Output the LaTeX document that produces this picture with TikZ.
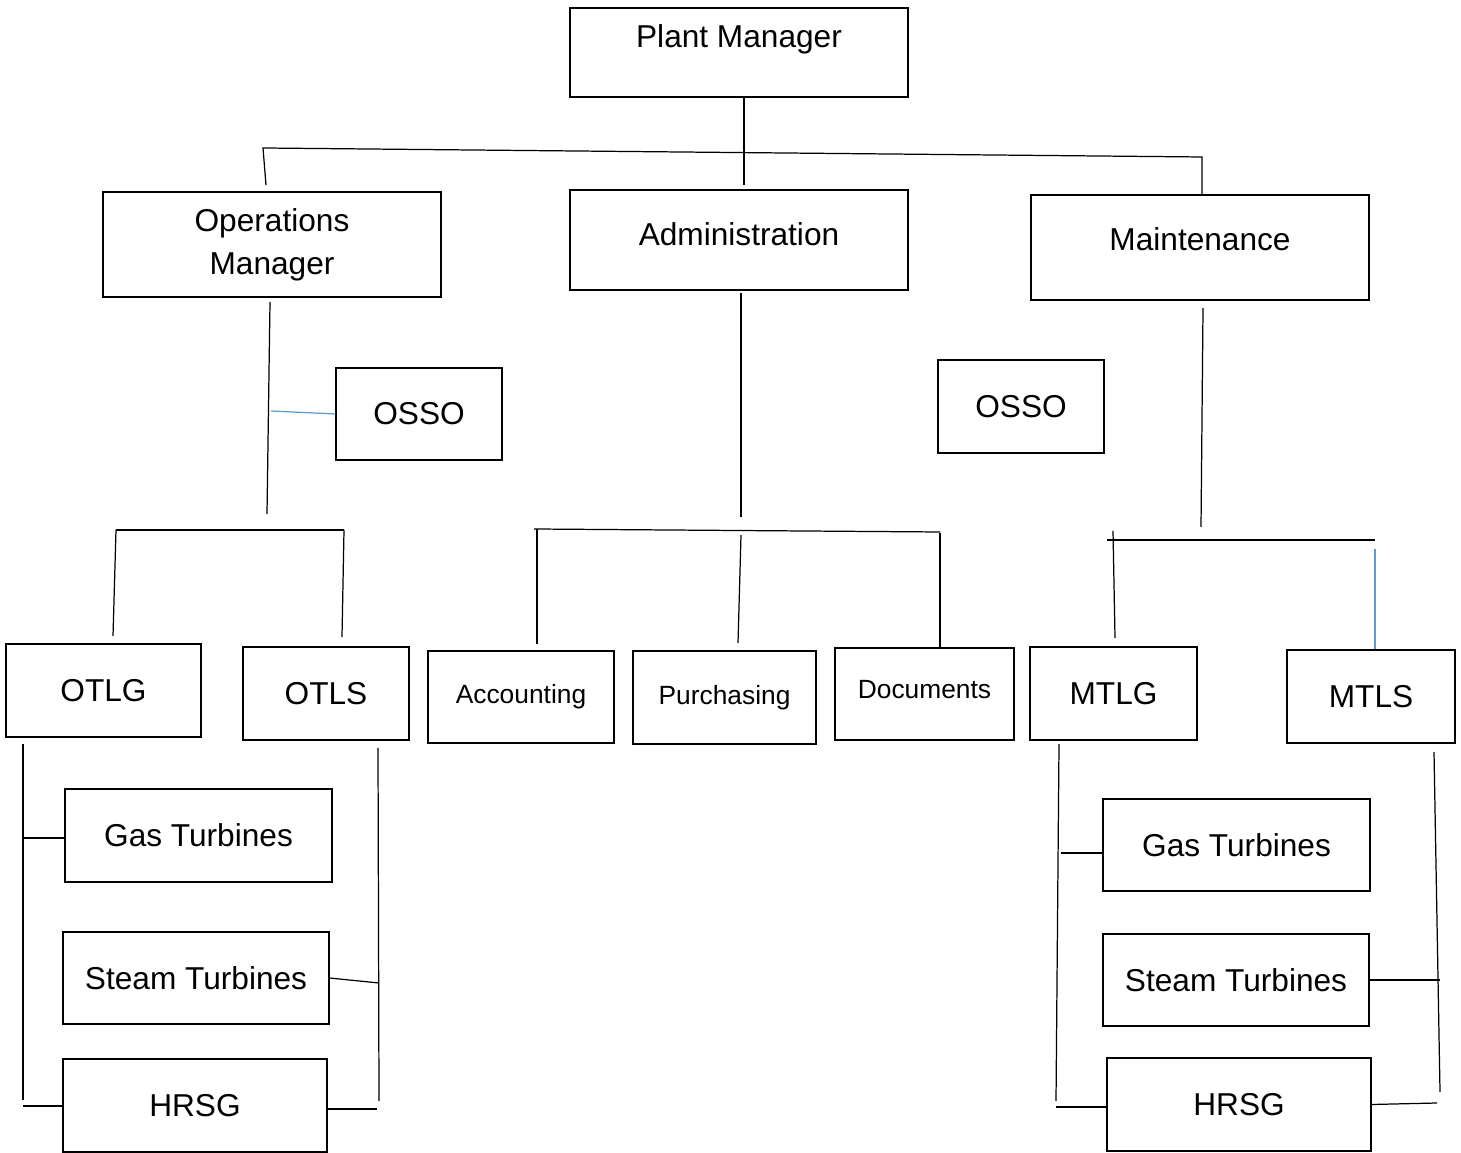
\documentclass[tikz,border=0pt]{standalone}
\usepackage{fontspec}
\setmainfont{Liberation Sans}
\usetikzlibrary{positioning}
\definecolor{linkblue}{RGB}{91,155,213}

\begin{document}
\begin{tikzpicture}
\tikzset{
  unit/.style={draw, line width=0.3pt, inner sep=0pt, align=center, font=\fontsize{9}{12.2}\selectfont},
  head/.style={unit, line width=0.6pt},
  small/.style={unit, font=\fontsize{7.5}{9}\selectfont},
  link/.style={line width=0.35pt},
  bluelink/.style={link, draw=linkblue}
}
\useasboundingbox (0,0) rectangle (14.61,-11.53);

% top row
\node[head, minimum width=3.38cm, minimum height=0.89cm, text depth=9.1pt] (plant) at (7.39,-0.525) {Plant Manager};
\node[head, minimum width=3.38cm, minimum height=1.05cm] (ops) at (2.72,-2.445) {Operations\\Manager};
\node[head, minimum width=3.38cm, minimum height=1.00cm, text depth=3.3pt] (admin) at (7.39,-2.40) {Administration};
\node[head, minimum width=3.38cm, minimum height=1.05cm, text depth=4.7pt] (maint) at (12.00,-2.475) {Maintenance};

\node[unit, minimum width=1.66cm, minimum height=0.92cm] (osso1) at (4.19,-4.14) {OSSO};
\node[unit, minimum width=1.66cm, minimum height=0.93cm] (osso2) at (10.21,-4.065) {OSSO};

% team leaders and admin units
\node[unit, minimum width=1.95cm, minimum height=0.93cm] (otlg) at (1.035,-6.905) {OTLG};
\node[unit, minimum width=1.66cm, minimum height=0.93cm] (otls) at (3.26,-6.935) {OTLS};
\node[small, minimum width=1.86cm, minimum height=0.92cm] (acc) at (5.21,-6.97) {Accounting};
\node[small, minimum width=1.83cm, minimum height=0.93cm] (pur) at (7.245,-6.975) {Purchasing};
\node[small, minimum width=1.79cm, minimum height=0.92cm, text depth=2.4pt] (docs) at (9.245,-6.94) {Documents};
\node[unit, minimum width=1.67cm, minimum height=0.93cm] (mtlg) at (11.135,-6.935) {MTLG};
\node[unit, minimum width=1.68cm, minimum height=0.93cm] (mtls) at (13.71,-6.965) {MTLS};

% plant areas
\node[unit, minimum width=2.67cm, minimum height=0.93cm] (gas1) at (1.985,-8.355) {Gas Turbines};
\node[unit, minimum width=2.66cm, minimum height=0.92cm] (steam1) at (1.96,-9.78) {Steam Turbines};
\node[unit, minimum width=2.64cm, minimum height=0.93cm] (hrsg1) at (1.95,-11.055) {HRSG};
\node[unit, minimum width=2.67cm, minimum height=0.92cm] (gas2) at (12.365,-8.45) {Gas Turbines};
\node[unit, minimum width=2.66cm, minimum height=0.92cm] (steam2) at (12.36,-9.80) {Steam Turbines};
\node[unit, minimum width=2.64cm, minimum height=0.93cm] (hrsg2) at (12.39,-11.045) {HRSG};

% junction points
\coordinate (pmJ) at (7.44,-1.85);
\coordinate (barL) at (2.63,-1.48);
\coordinate (barR) at (12.02,-1.57);
\coordinate (opsJ) at (2.66,-1.85);
\coordinate (opsU) at (2.70,-3.02);
\coordinate (opsD) at (2.67,-5.14);
\coordinate (ossoJ) at (2.71,-4.11);
\coordinate (obL) at (1.16,-5.30);
\coordinate (obR) at (3.44,-5.30);
\coordinate (otlgU) at (1.13,-6.36);
\coordinate (otlsU) at (3.42,-6.37);
\coordinate (admU) at (7.41,-2.93);
\coordinate (admD) at (7.41,-5.17);
\coordinate (abL) at (5.34,-5.29);
\coordinate (abR) at (9.40,-5.32);
\coordinate (accT) at (5.37,-5.29);
\coordinate (accU) at (5.37,-6.44);
\coordinate (purT) at (7.41,-5.35);
\coordinate (purU) at (7.38,-6.43);
\coordinate (docT) at (9.40,-5.33);
\coordinate (mntU) at (12.03,-3.08);
\coordinate (mntD) at (12.01,-5.27);
\coordinate (mbL) at (11.07,-5.40);
\coordinate (mbR) at (13.75,-5.40);
\coordinate (mtlgT) at (11.13,-5.31);
\coordinate (mtlgU) at (11.15,-6.38);
\coordinate (mtlsT) at (13.75,-5.49);
\coordinate (lgT) at (0.23,-7.44);
\coordinate (lgB) at (0.23,-11.00);
\coordinate (lgG) at (0.23,-8.38);
\coordinate (lgH) at (0.23,-11.06);
\coordinate (lsT) at (3.78,-7.48);
\coordinate (lsB) at (3.79,-11.01);
\coordinate (lsS) at (3.79,-9.83);
\coordinate (lsH) at (3.77,-11.09);
\coordinate (rgT) at (10.59,-7.44);
\coordinate (rgB) at (10.56,-11.01);
\coordinate (rgG) at (10.61,-8.53);
\coordinate (rgH) at (10.56,-11.07);
\coordinate (rsT) at (14.34,-7.52);
\coordinate (rsB) at (14.40,-10.92);
\coordinate (rsS) at (14.40,-9.80);
\coordinate (rsH) at (14.37,-11.03);

% upper links
\draw[link] (plant.south -| pmJ) -- (pmJ);
\draw[link] (opsJ) -- (barL) -- (barR) -- (maint.north -| barR);
\draw[link] (opsU) -- (opsD);
\draw[bluelink] (ossoJ) -- (osso1.west);
\draw[link] (obL) -- (obR);
\draw[link] (obL) -- (otlgU);
\draw[link] (obR) -- (otlsU);

\draw[link] (admU) -- (admD);
\draw[link] (abL) -- (abR);
\draw[link] (accT) -- (accU);
\draw[link] (purT) -- (purU);
\draw[link] (docT) -- (docs.north -| docT);

\draw[link] (mntU) -- (mntD);
\draw[link] (mbL) -- (mbR);
\draw[link] (mtlgT) -- (mtlgU);
\draw[bluelink] (mtlsT) -- (mtls.north -| mtlsT);

% lower links
\draw[link] (lgT) -- (lgB);
\draw[link] (lgG) -- (gas1.west |- lgG);
\draw[link] (lgH) -- (hrsg1.west |- lgH);
\draw[link] (lsT) -- (lsB);
\draw[link] (steam1.east) -- (lsS);
\draw[link] (hrsg1.east |- lsH) -- (lsH);

\draw[link] (rgT) -- (rgB);
\draw[link] (rgG) -- (gas2.west |- rgG);
\draw[link] (rgH) -- (hrsg2.west |- rgH);
\draw[link] (rsT) -- (rsB);
\draw[link] (steam2.east) -- (rsS);
\draw[link] (hrsg2.east) -- (rsH);
\end{tikzpicture}
\end{document}
